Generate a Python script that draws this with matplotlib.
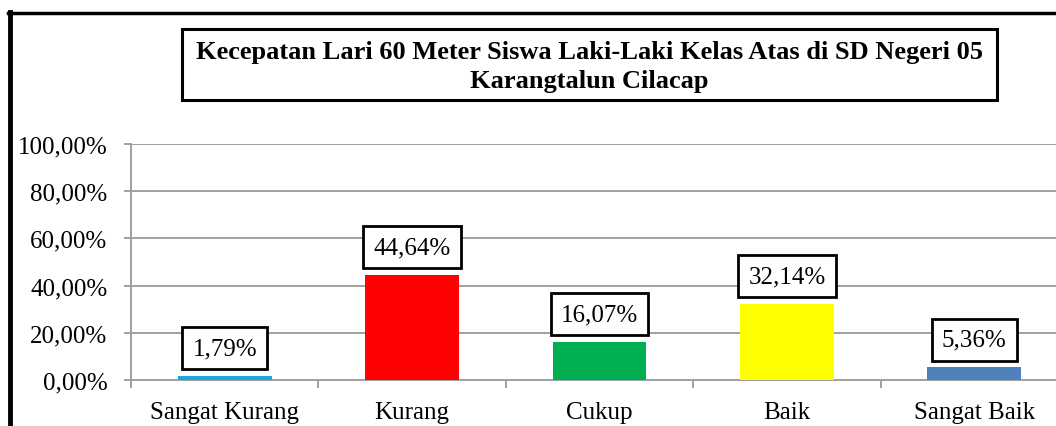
import numpy as np
import matplotlib
matplotlib.use("Agg")
import matplotlib.pyplot as plt
from matplotlib.lines import Line2D
from matplotlib.patches import Rectangle

matplotlib.rcParams["font.family"] = ["Liberation Serif", "DejaVu Serif"]

categories = ["Sangat Kurang", "Kurang", "Cukup", "Baik", "Sangat Baik"]
values = [1.79, 44.64, 16.07, 32.14, 5.36]
colors = ["#1BA8E0", "#FF0000", "#00B050", "#FFFF00", "#4F81BD"]
yticks = [0, 20, 40, 60, 80, 100]
title = "Kecepatan Lari 60 Meter Siswa Laki-Laki Kelas Atas di SD Negeri 05\nKarangtalun Cilacap"

W, H = 1056, 427
fig = plt.figure(figsize=(W / 100, H / 100), dpi=100)

# axes placed by pixel edges
left, right, top, bottom = 131, 1068, 145, 381
ax = fig.add_axes([left / W, 1 - bottom / H, (right - left) / W, (bottom - top) / H])

x = np.arange(len(categories))
ax.bar(x, values, width=0.5, color=colors, zorder=3)
ax.set_xlim(-0.5, len(categories) - 0.5)
ax.set_ylim(0, 100)

ax.set_yticks(yticks)
ax.set_yticklabels(["%s%%" % ("%.2f" % v).replace(".", ",") for v in yticks], fontsize=18)
ax.yaxis.grid(True, color="#A0A0A0", linewidth=1.4, zorder=0)
ax.tick_params(axis="y", length=5, width=1.4, color="#A0A0A0", pad=12)

ax.set_xticks(x)
ax.set_xticklabels(categories, fontsize=18)
ax.set_xticks(np.arange(len(categories) + 1) - 0.5, minor=True)
ax.tick_params(axis="x", which="major", length=0, pad=15)
ax.tick_params(axis="x", which="minor", length=6, width=1.4, color="#A0A0A0")

for side in ["top", "right"]:
    ax.spines[side].set_visible(False)
for side in ["left", "bottom"]:
    ax.spines[side].set_color("#A0A0A0")
    ax.spines[side].set_linewidth(1.4)

for xi, v in zip(x, values):
    ax.annotate(("%.2f" % v).replace(".", ",") + "%", (xi, v), xytext=(0, 12),
                textcoords="offset points", ha="center", va="bottom", fontsize=18,
                bbox=dict(boxstyle="square,pad=0.4", fc="white", ec="black", lw=2),
                zorder=5)

# title box
fig.patches.append(Rectangle((182 / W, 1 - 101 / H), (997 - 182) / W, (101 - 30) / H,
                             transform=fig.transFigure, fill=False, ec="black", lw=2.2))
fig.text(589.5 / W, 1 - 67 / H, title, ha="center", va="center", fontsize=19,
         fontweight="bold", linespacing=1.32)

# outer chart frame (cropped at right and bottom)
fig.lines.append(Line2D([10 / W, 10 / W], [0, 1 - 13 / H], transform=fig.transFigure,
                        color="black", lw=3.5))
fig.lines.append(Line2D([8 / W, 1], [1 - 14 / H, 1 - 14 / H], transform=fig.transFigure,
                        color="black", lw=2.5))

fig.savefig("out.png", dpi=100)
